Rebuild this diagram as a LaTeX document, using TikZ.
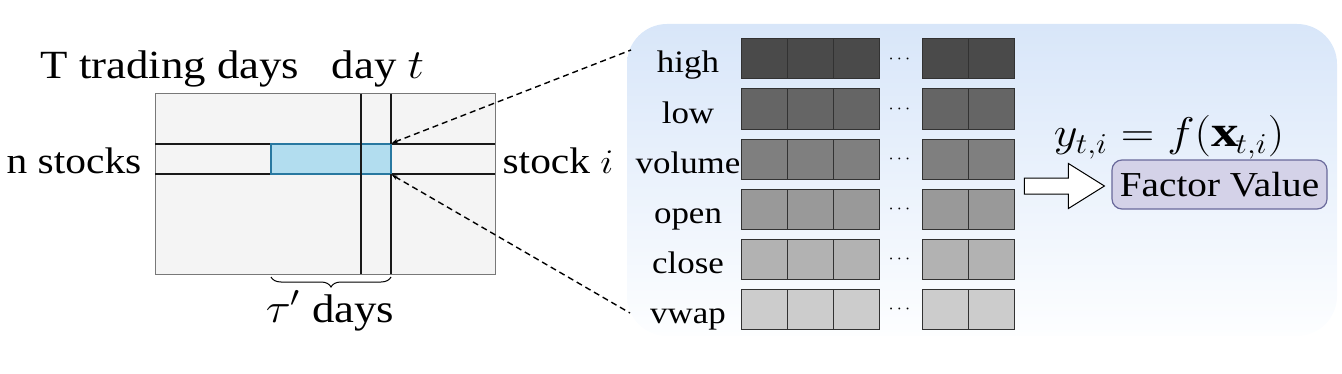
\documentclass[tikz,border=0pt]{standalone}
\usepackage{amsmath,amssymb}
\usepackage{graphicx}
\usepackage{fontspec}
\setmainfont{Liberation Serif}[FakeStretch=1.12]
\usepackage{tikz}
\usetikzlibrary{arrows.meta,positioning,shapes.arrows,decorations.pathreplacing}
\usepackage{xcolor}
\definecolor{matfill}{RGB}{244,244,244}
\definecolor{matline}{RGB}{120,120,120}
\definecolor{gridline}{RGB}{25,25,25}
\definecolor{winfill}{RGB}{178,221,239}
\definecolor{winline}{RGB}{40,120,160}
\definecolor{paneltop}{RGB}{216,230,249}
\definecolor{panelbot}{RGB}{253,254,255}
\definecolor{cellline}{RGB}{50,50,50}
\definecolor{gHigh}{RGB}{74,74,74}
\definecolor{gLow}{RGB}{101,101,101}
\definecolor{gVol}{RGB}{127,127,127}
\definecolor{gOpen}{RGB}{153,153,153}
\definecolor{gClose}{RGB}{178,178,178}
\definecolor{gVwap}{RGB}{204,204,204}
\definecolor{factfill}{RGB}{212,210,232}
\definecolor{factline}{RGB}{105,105,155}
\newcommand{\wide}[1]{\scalebox{1.12}[1]{#1}}
\tikzset{
  biglab/.style={font=\fontsize{20}{21}\selectfont, inner sep=0pt},
  midlab/.style={font=\fontsize{18.5}{19}\selectfont, inner sep=0pt},
  rowlab/.style={font=\fontsize{15.6}{16}\selectfont, inner sep=0pt},
  cell/.style={draw=cellline, line width=0.5pt, minimum width=23pt, minimum height=20pt,
               inner sep=0pt, outer sep=0pt},
  grid/.style={gridline, line width=0.9pt},
  zoomline/.style={dashed, dash pattern=on 3pt off 2pt, line width=0.7pt, {Stealth[length=3pt]}-},
  factor/.style={rectangle, rounded corners=5pt, draw=factline, line width=0.6pt, fill=factfill,
                 minimum width=107.5pt, minimum height=24.5pt, inner sep=0pt,
                 font=\fontsize{17.5}{18}\selectfont},
}

\begin{document}
\begin{tikzpicture}[x=0.5pt,y=-0.5pt]
\useasboundingbox (0,0) rectangle (1342,374);

% data panel
\shade[top color=paneltop, bottom color=panelbot, rounded corners=20pt] (627,24) rectangle (1337,336);

% stock x day matrix
\node[rectangle, draw=matline, line width=0.5pt, fill=matfill, minimum width=170pt,
      minimum height=90pt, inner sep=0pt] (mat) at (325,184) {};
\draw[grid] (155,144) -- (271,144) (391,144) -- (495,144);
\draw[grid] (155,174) -- (271,174) (391,174) -- (495,174);
\node[rectangle, draw=winline, line width=0.9pt, fill=winfill, minimum width=60pt,
      minimum height=15pt, inner sep=0pt] (win) at (331,159) {};
\draw[grid] (361,94) -- (361,274);
\draw[grid] (391,94) -- (391,144) (391,174) -- (391,274);

\node[biglab, anchor=base] (tdays) at (170,79) {T trading days};
\node[biglab, anchor=base] (dayt) at (378,79) {day \wide{$t$}};
\node[midlab, anchor=base] (nstk) at (74,173) {n stocks};
\node[midlab, anchor=base] (stki) at (558,173) {stock \wide{$i$}};
\node[biglab, anchor=base] (tau) at (330,322) {\wide{$\tau'$} days};

\draw[decorate, decoration={brace, mirror, amplitude=5pt}, line width=0.5pt]
  (271,277) -- (391,277);

% zoom into the window
\coordinate (ztop) at (631,50);
\coordinate (zbot) at (630,313);
\draw[zoomline] (win.north east) -- (ztop);
\draw[zoomline] (win.south east) -- (zbot);

% feature rows
\foreach \name/\col [count=\r from 0] in {high/gHigh, low/gLow, volume/gVol,
                                          open/gOpen, close/gClose, vwap/gVwap} {
  \node[rowlab, anchor=base] (lab\r) at (688,73+50*\r) {\name};
  \foreach \cx [count=\k] in {764,810,856,945,991}
    \node[cell, fill=\col] (c\r-\k) at (\cx,59+50*\r) {};
  \node[font=\fontsize{9}{9}\selectfont, inner sep=0pt] (dots\r) at (901,59+50*\r) {$\cdots$};
}

% output
\node[single arrow, draw=black, line width=0.5pt, fill=white, minimum height=40pt,
      inner sep=3.75pt, single arrow head extend=7.25pt, single arrow tip angle=64]
  (arr) at (1058,186) {};
\node[factor] (fval) at (1219.5,184.5) {Factor Value};
\node[anchor=base, inner sep=0pt] (eq) at (1169,147)
  {\wide{\fontsize{22}{23}\selectfont$y_{t,i} = f(\mathbf{x}_{t,i})$}};
\end{tikzpicture}
\end{document}
